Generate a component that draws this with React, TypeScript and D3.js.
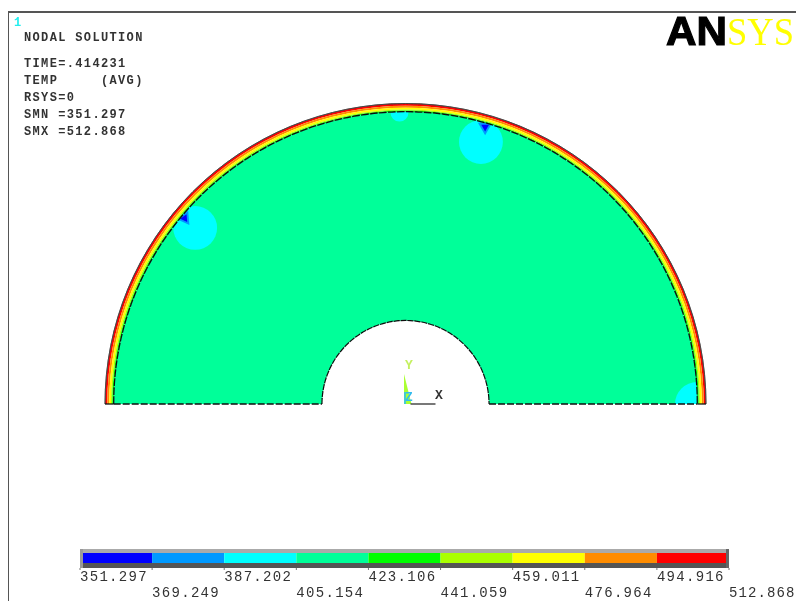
import React from "react";
import * as d3 from "d3";

// legend levels
const levelValues = [351.297, 369.249, 387.202, 405.154, 423.106, 441.059, 459.011, 476.964, 494.916, 512.868];
const levelColors = ["#0000ff", "#0099ff", "#00ffff", "#00ff99", "#00ff00", "#aaff00", "#ffff00", "#ff8c00", "#ff0000"];

// temperature bands of the rim, from outside in, with outer radius as a fraction of the part radius
const rimLevels = [8, 7, 6, 5, 4];
const rimRadii = [1, 0.9925, 0.986, 0.98, 0.976];
const bodyLevel = 3;
const holeRadius = 0.278;
const dashedRingRadius = 0.971;

// cool patches: centre and radius in part units
const spotX = [-0.7, 0.251, 0.97, -0.02];
const spotY = [0.586, 0.872, 0, 0.97];
const spotR = [0.073, 0.073, 0.073, 0.03];

// coldest points next to the rim
const coldX = [-0.735, 0.265];
const coldY = [0.618, 0.922];

const infoLines = ["TIME=.414231", "TEMP     (AVG)", "RSYS=0", "SMN =351.297", "SMX =512.868"];

const monoFont = "'Liberation Mono', monospace";
const frameColor = "#555555";
const textColor = "#333333";

const App = () => {
  const width = 796;
  const height = 601;
  const cx = 405.5;
  const cy = 404;

  const r = d3.scaleLinear().domain([0, 1]).range([0, 300.5]);
  const px = d3.scaleLinear().domain([-1, 1]).range([cx - 300.5, cx + 300.5]);
  const py = d3.scaleLinear().domain([0, 1]).range([cy, cy - 300.5]);
  const legendX = d3.scaleLinear().domain([levelValues[0], levelValues[9]]).range([80, 729]);

  const halfRing = (inner: number, outer: number) =>
    d3.arc()({
      innerRadius: r(inner),
      outerRadius: r(outer),
      startAngle: -Math.PI / 2,
      endAngle: Math.PI / 2,
    }) as string;

  const halfCircle = (radius: number) =>
    d3.arc()({
      innerRadius: r(radius),
      outerRadius: r(radius),
      startAngle: -Math.PI / 2,
      endAngle: Math.PI / 2,
    }) as string;

  const triangle = (size: number) => d3.symbol().type(d3.symbolTriangle).size(size)() as string;

  return (
    <svg
      width={width}
      height={height}
      style={{ position: "fixed", left: 0, top: 0, background: "#fff", display: "block" }}
    >
      <defs>
        <clipPath id="body-clip">
          <path d={halfRing(holeRadius, dashedRingRadius)} transform={`translate(${cx},${cy})`} />
        </clipPath>
        <filter id="soft" x="0" y="0" width="100%" height="100%">
          <feGaussianBlur stdDeviation="0.35" />
        </filter>
      </defs>

      <g filter="url(#soft)">
        {/* frame */}
        <path d={`M8,601V12H796`} fill="none" stroke={frameColor} strokeWidth={2} />
        <text x={14} y={26} fontFamily={monoFont} fontWeight="bold" fontSize={12} fill="#22eeee">1</text>

        {/* header block */}
        <g fontFamily={monoFont} fontSize={12} fontWeight="bold" fill={textColor} letterSpacing={1.35}>
          <text x={24} y={41}>NODAL SOLUTION</text>
          {infoLines.map((line, i) => (
            <text key={i} x={24} y={67 + i * 16.9} style={{ whiteSpace: "pre" }}>
              {line}
            </text>
          ))}
        </g>

        {/* logo */}
        <text
          x={666}
          y={44.5}
          fontFamily="'Liberation Sans', sans-serif"
          fontWeight="bold"
          fontSize={41}
          textLength={61}
          lengthAdjust="spacingAndGlyphs"
          fill="#000"
          stroke="#000"
          strokeWidth={1.2}
        >
          AN
        </text>
        <text
          x={727}
          y={44.5}
          fontFamily="'Liberation Serif', serif"
          fontSize={41}
          textLength={67}
          lengthAdjust="spacingAndGlyphs"
          fill="#ffff00"
        >
          SYS
        </text>

        {/* contour bands */}
        <g transform={`translate(${cx},${cy})`}>
          {rimLevels.map((level, i) => (
            <path
              key={level}
              d={halfRing(i < rimRadii.length - 1 ? rimRadii[i + 1] : dashedRingRadius, rimRadii[i])}
              fill={levelColors[level]}
            />
          ))}
          <path d={halfRing(holeRadius, dashedRingRadius)} fill={levelColors[bodyLevel]} />
        </g>

        {/* cool patches */}
        <g clipPath="url(#body-clip)">
          {spotR.map((s, i) => (
            <circle key={i} cx={px(spotX[i])} cy={py(spotY[i])} r={r(s)} fill={levelColors[2]} />
          ))}
          {coldX.map((x, i) => (
            <g key={i} transform={`translate(${px(x)},${py(coldY[i])}) rotate(${i === 0 ? 25 : 180})`}>
              <path d={triangle(90)} fill={levelColors[1]} />
              <path d={triangle(26)} fill={levelColors[0]} />
            </g>
          ))}
        </g>

        {/* outlines */}
        <g transform={`translate(${cx},${cy})`} fill="none">
          <path d={halfCircle(1)} stroke="#444" strokeWidth={0.8} />
          <path d={halfCircle(dashedRingRadius)} stroke="#111" strokeWidth={1.3} strokeDasharray="7 2" />
          <path d={halfCircle(holeRadius)} stroke="#111" strokeWidth={1.2} strokeDasharray="6 1" />
        </g>
        <g stroke="#111" strokeWidth={1.3} fill="none">
          <line x1={px(-1)} x2={px(-dashedRingRadius)} y1={cy} y2={cy} />
          <line x1={px(dashedRingRadius)} x2={px(1)} y1={cy} y2={cy} />
          <line x1={px(-dashedRingRadius)} x2={cx - r(holeRadius)} y1={cy} y2={cy} strokeDasharray="7 2" />
          <line x1={cx + r(holeRadius)} x2={px(dashedRingRadius)} y1={cy} y2={cy} strokeDasharray="7 2" />
        </g>

        {/* triad */}
        <path d={`M${cx - 1.5},${cy}V${cy - 30}L${cx + 6},${cy}Z`} fill="#aaff33" />
        <line x1={cx - 0.5} x2={cx - 0.5} y1={cy - 12} y2={cy} stroke="#22bbff" strokeWidth={1.5} />
        <line x1={cx + 5} x2={cx + 30} y1={cy} y2={cy} stroke="#222" strokeWidth={1.2} />
        <g fontFamily={monoFont} fontSize={13} fontWeight="bold">
          <text x={405} y={369} fill="#c4f060">Y</text>
          <text x={405} y={401} fill="#33bbee">Z</text>
          <text x={435} y={399} fill="#333">X</text>
        </g>

        {/* legend bar */}
        <rect x={legendX(levelValues[0])} y={549} width={649} height={4} fill="#aaaaaa" />
        <rect x={legendX(levelValues[0])} y={563} width={649} height={5} fill="#555555" />
        <rect x={legendX(levelValues[0])} y={549} width={3} height={19} fill="#999999" />
        <rect x={726} y={549} width={3} height={19} fill="#666666" />
        {levelColors.map((color, i) => {
          const x0 = Math.max(83, legendX(levelValues[i]));
          const x1 = Math.min(726, legendX(levelValues[i + 1]));
          return <rect key={color} x={x0} y={553} width={x1 - x0} height={10} fill={color} />;
        })}
        {levelValues.map((value, i) => (
          <g key={value} transform={`translate(${legendX(value)},0)`}>
            <line y1={568} y2={570} stroke="#777" />
            <text
              y={i % 2 === 0 ? 581 : 597}
              fontFamily={monoFont}
              fontSize={14}
              letterSpacing={i === 9 ? 1.1 : 1.3}
              fill={textColor}
            >
              {value.toFixed(3)}
            </text>
          </g>
        ))}
      </g>
    </svg>
  );
};

export default App;
